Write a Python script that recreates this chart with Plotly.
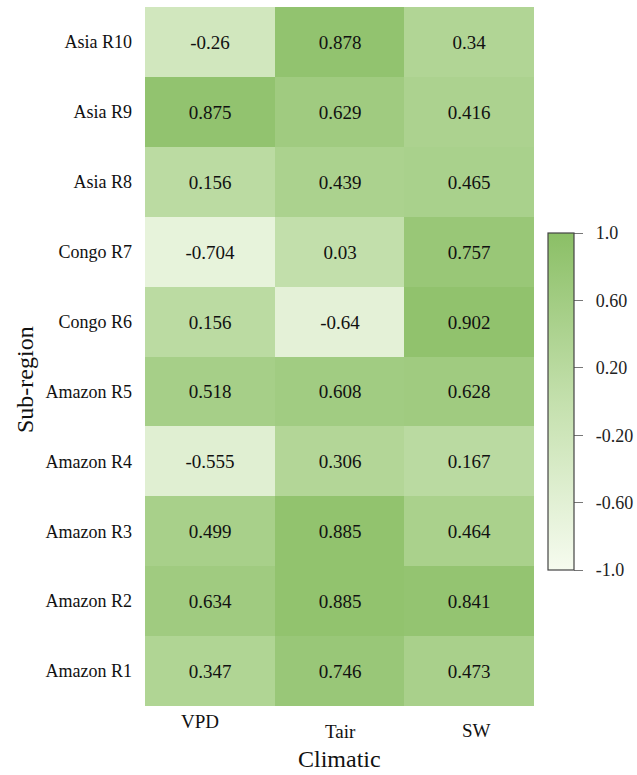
import plotly.graph_objects as go

# Correlation of sub-region response with climatic drivers
regions = ["Asia R10", "Asia R9", "Asia R8", "Congo R7", "Congo R6",
           "Amazon R5", "Amazon R4", "Amazon R3", "Amazon R2", "Amazon R1"]
drivers = ["VPD", "Tair", "SW"]

vpd = [-0.26, 0.875, 0.156, -0.704, 0.156, 0.518, -0.555, 0.499, 0.634, 0.347]
tair = [0.878, 0.629, 0.439, 0.03, -0.64, 0.608, 0.306, 0.885, 0.885, 0.746]
sw = [0.34, 0.416, 0.465, 0.757, 0.902, 0.628, 0.167, 0.464, 0.841, 0.473]

cbar_vals = [-1.0, -0.6, -0.2, 0.2, 0.6, 1.0]
cbar_text = ["-1.0", "-0.60", "-0.20", "0.20", "0.60", "1.0"]

z = [[a, b, c] for a, b, c in zip(vpd, tair, sw)]
labels = [[str(v) for v in row] for row in z]

FONT = "Liberation Serif"

fig = go.Figure(go.Heatmap(
    z=z, x=drivers, y=regions,
    text=labels, texttemplate="%{text}",
    textfont=dict(family=FONT, size=19, color="#111111"),
    zmin=-1, zmax=1,
    colorscale=[[0, "#f6fbef"], [0.5, "#c4e0ad"], [1, "#8bbf66"]],
    colorbar=dict(
        x=1.036, xanchor="left", xpad=0,
        y=0.4356, yanchor="middle",
        thickness=26, thicknessmode="pixels",
        len=357, lenmode="pixels",
        outlinecolor="#444444", outlinewidth=1.2,
        tickvals=cbar_vals,
        ticktext=["\u00a0\u00a0" + t for t in cbar_text],
        ticks="outside", ticklen=9, tickcolor="#777777",
        tickfont=dict(family=FONT, size=18, color="#222222"),
    ),
    hoverongaps=False,
))

fig.update_layout(
    width=637, height=775,
    margin=dict(l=145, r=103, t=7, b=69, autoexpand=False),
    paper_bgcolor="white", plot_bgcolor="white",
    font=dict(family=FONT, color="#111111"),
)
fig.update_xaxes(showticklabels=False, showgrid=False, zeroline=False,
                 showline=False, ticks="")
fig.update_yaxes(autorange="reversed", showgrid=False, zeroline=False,
                 showline=False, ticks="", ticklabelstandoff=12,
                 tickfont=dict(family=FONT, size=18, color="#111111"))

# Column labels, set individually below the grid
col_label_pos = [(200, 721), (340, 731), (476, 730)]
for name, (xpix, ypix) in zip(drivers, col_label_pos):
    fig.add_annotation(text=name, xref="paper", yref="paper",
                       x=(xpix - 145) / 389, y=(706 - ypix) / 699,
                       showarrow=False, xanchor="center", yanchor="middle",
                       font=dict(family=FONT, size=19, color="#111111"))

fig.add_annotation(text="Climatic", xref="paper", yref="paper",
                   x=(339 - 145) / 389, y=(706 - 759) / 699, showarrow=False,
                   xanchor="center", yanchor="middle",
                   font=dict(family=FONT, size=24, color="#111111"))
fig.add_annotation(text="Sub-region", xref="paper", yref="paper",
                   x=(25 - 145) / 389, y=(706 - 380) / 699, showarrow=False,
                   textangle=-90, xanchor="center", yanchor="middle",
                   font=dict(family=FONT, size=24, color="#111111"))

fig.write_html("out.html")
